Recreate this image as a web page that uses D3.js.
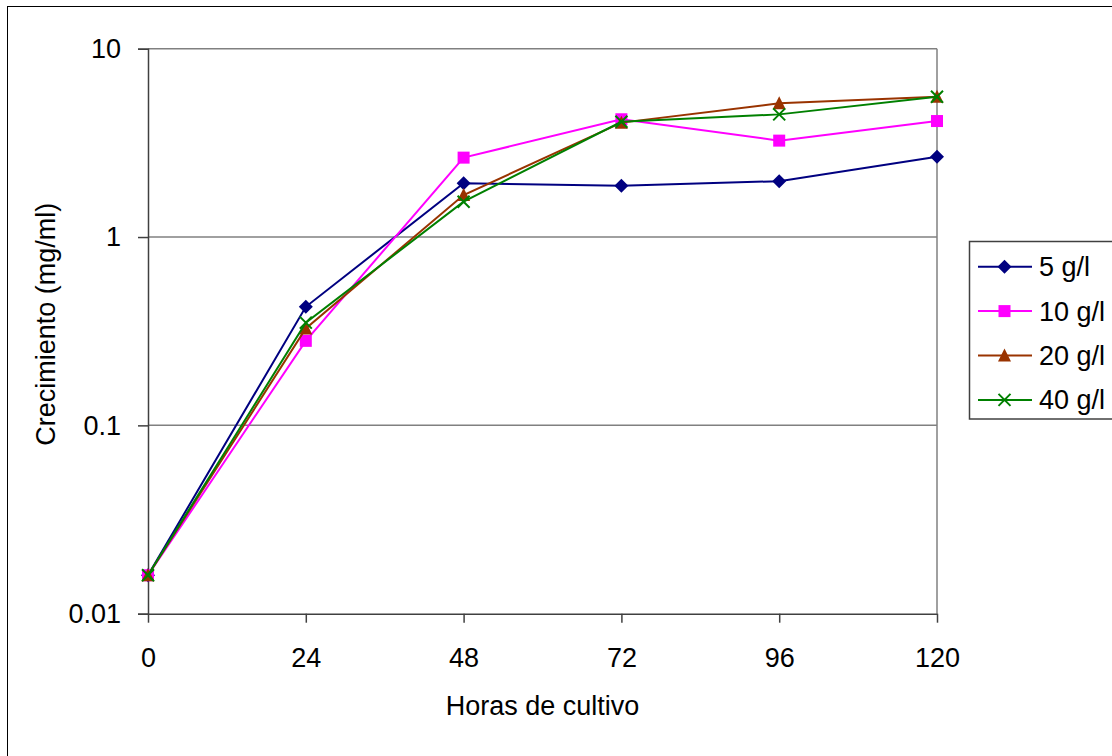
<!DOCTYPE html>
<html>
<head>
<meta charset="utf-8">
<script src="https://cdn.jsdelivr.net/npm/d3@7"></script>
<style>
    body { margin: 0; background: #fff; }
    svg { display: block; font-family: "Liberation Sans", Arial, sans-serif; }
</style>
</head>
<body>
<div id="chart"></div>
<script>
// Data
const hours = [0, 24, 48, 72, 96, 120];
const seriesNames = ["5 g/l", "10 g/l", "20 g/l", "40 g/l"];
const growth5 = [0.016, 0.426, 1.93, 1.87, 1.98, 2.67];
const growth10 = [0.016, 0.281, 2.64, 4.22, 3.25, 4.13];
const growth20 = [0.016, 0.327, 1.67, 4.05, 5.13, 5.56];
const growth40 = [0.016, 0.351, 1.54, 4.09, 4.48, 5.56];
const yTicks = [0.01, 0.1, 1, 10];
const yTickLabels = ["0.01", "0.1", "1", "10"];
const xTicks = [0, 24, 48, 72, 96, 120];

const width = 1112, height = 756;
const fontSize = 27;

const svg = d3.select("#chart")
    .append("svg")
    .attr("width", width)
    .attr("height", height);

// outer chart border (only top and left are visible in the frame)
svg.append("rect")
    .attr("x", 7.5).attr("y", 6.5)
    .attr("width", width + 20).attr("height", height + 20)
    .attr("fill", "#fff")
    .attr("stroke", "#000")
    .attr("stroke-width", 1);

// plot area
const plot = { left: 148, right: 937, top: 48.7, bottom: 613.7 };

const x = d3.scaleLinear()
    .domain([0, 120])
    .range([plot.left, plot.right]);

const y = d3.scaleLog()
    .domain([0.01, 10])
    .range([plot.bottom, plot.top]);

// gridlines
svg.append("g")
    .selectAll("line")
    .data(yTicks.filter(d => d > 0.01))
    .enter()
    .append("line")
    .attr("x1", plot.left).attr("x2", plot.right)
    .attr("y1", d => y(d)).attr("y2", d => y(d))
    .attr("stroke", "#808080")
    .attr("stroke-width", 1.5);

// right border of plot area
svg.append("line")
    .attr("x1", plot.right).attr("x2", plot.right)
    .attr("y1", plot.top).attr("y2", plot.bottom)
    .attr("stroke", "#808080")
    .attr("stroke-width", 1.5);

// y axis
const yAxis = svg.append("g")
    .attr("transform", `translate(${plot.left},0)`)
    .call(d3.axisLeft(y)
        .tickValues(yTicks)
        .tickFormat((d, i) => yTickLabels[i])
        .tickSize(10)
        .tickPadding(17));
yAxis.select(".domain").attr("stroke", "#404040").attr("stroke-width", 1.5);
yAxis.selectAll(".tick line").attr("stroke", "#404040").attr("stroke-width", 1.5);
yAxis.selectAll(".tick text")
    .attr("font-size", fontSize)
    .attr("font-family", "Liberation Sans, Arial, sans-serif")
    .attr("fill", "#000");

// x axis
const xAxis = svg.append("g")
    .attr("transform", `translate(0,${plot.bottom})`)
    .call(d3.axisBottom(x)
        .tickValues(xTicks)
        .tickFormat(d3.format("d"))
        .tickSize(9)
        .tickSizeOuter(0)
        .tickPadding(25));
xAxis.select(".domain").attr("stroke", "#404040").attr("stroke-width", 1.5);
xAxis.selectAll(".tick line").attr("stroke", "#404040").attr("stroke-width", 1.5);
xAxis.selectAll(".tick text")
    .attr("font-size", fontSize)
    .attr("font-family", "Liberation Sans, Arial, sans-serif")
    .attr("fill", "#000");

// axis titles
svg.append("text")
    .attr("x", (plot.left + plot.right) / 2)
    .attr("y", 715)
    .attr("text-anchor", "middle")
    .attr("font-size", fontSize)
    .text("Horas de cultivo");

svg.append("text")
    .attr("transform", `translate(55,${(plot.top + plot.bottom) / 2 - 7}) rotate(-90)`)
    .attr("text-anchor", "middle")
    .attr("font-size", fontSize)
    .text("Crecimiento (mg/ml)");

// series
const series = [
    { name: seriesNames[0], values: growth5, color: "#000080", marker: "diamond" },
    { name: seriesNames[1], values: growth10, color: "#FF00FF", marker: "square" },
    { name: seriesNames[2], values: growth20, color: "#993300", marker: "triangle" },
    { name: seriesNames[3], values: growth40, color: "#008000", marker: "cross" }
];

function drawMarker(g, type, color) {
    if (type === "diamond") {
        g.append("path").attr("d", "M0,-7L7,0L0,7L-7,0Z").attr("fill", color);
    } else if (type === "square") {
        g.append("rect").attr("x", -6).attr("y", -6).attr("width", 12).attr("height", 12).attr("fill", color);
    } else if (type === "triangle") {
        g.append("path").attr("d", "M0,-7L6.5,6L-6.5,6Z").attr("fill", color);
    } else {
        g.append("path").attr("d", "M-6,-6L6,6M-6,6L6,-6")
            .attr("stroke", color).attr("stroke-width", 2).attr("fill", "none");
    }
}

const line = d3.line()
    .x((d, i) => x(hours[i]))
    .y(d => y(d));

series.forEach(s => {
    svg.append("path")
        .datum(s.values)
        .attr("d", line)
        .attr("fill", "none")
        .attr("stroke", s.color)
        .attr("stroke-width", 2);

    s.values.forEach((v, i) => {
        const g = svg.append("g").attr("transform", `translate(${x(hours[i])},${y(v)})`);
        drawMarker(g, s.marker, s.color);
    });
});

// legend
const legend = svg.append("g");
legend.append("rect")
    .attr("x", 969.5).attr("y", 241.5)
    .attr("width", 160).attr("height", 177.5)
    .attr("fill", "#fff")
    .attr("stroke", "#404040")
    .attr("stroke-width", 1.5);

series.forEach((s, i) => {
    const cy = 266.7 + i * 44.4;
    legend.append("line")
        .attr("x1", 978).attr("x2", 1032)
        .attr("y1", cy).attr("y2", cy)
        .attr("stroke", s.color).attr("stroke-width", 2);
    const g = legend.append("g").attr("transform", `translate(1004.5,${cy})`);
    drawMarker(g, s.marker, s.color);
    legend.append("text")
        .attr("x", 1039)
        .attr("y", cy)
        .attr("dy", "0.35em")
        .attr("font-size", fontSize)
        .text(s.name);
});
</script>
</body>
</html>
